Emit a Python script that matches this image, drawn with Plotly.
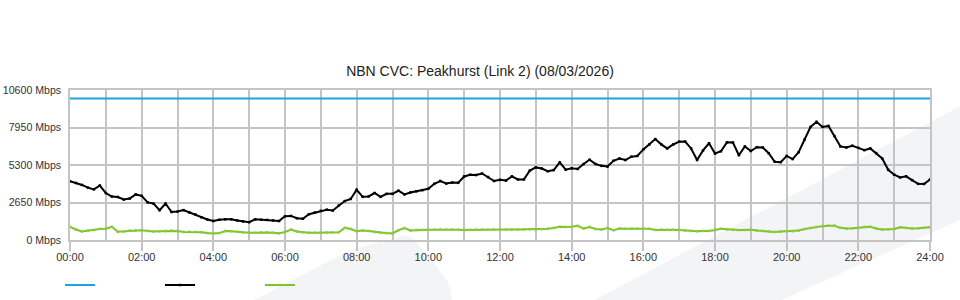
import plotly.graph_objects as go

title_text = "NBN CVC: Peakhurst (Link 2) (08/03/2026)"

y_tick_values = [0, 2650, 5300, 7950, 10600]
y_tick_labels = ["0 Mbps", "2650 Mbps", "5300 Mbps", "7950 Mbps", "10600 Mbps"]
x_tick_values = [0, 2, 4, 6, 8, 10, 12, 14, 16, 18, 20, 22, 24]
x_tick_labels = ["00:00", "02:00", "04:00", "06:00", "08:00", "10:00", "12:00",
                 "14:00", "16:00", "18:00", "20:00", "22:00", "24:00"]
legend_labels = ["", "", ""]

# capacity line (Mbps)
capacity_hours = [0, 24]
capacity_mbps = [10000, 10000]

# 10-minute samples, 00:00 .. 24:00
sample_hours = [i / 6 for i in range(145)]

download_mbps = [
    4160, 4030, 3890, 3700, 3580, 3850, 3320, 3070, 3040, 2860,
    2930, 3220, 3120, 2660, 2570, 2110, 2580, 1980, 2010, 2110,
    1940, 1800, 1610, 1450, 1340, 1430, 1460, 1460, 1380, 1310,
    1260, 1460, 1430, 1420, 1380, 1340, 1680, 1700, 1540, 1500,
    1820, 1940, 2060, 2140, 2080, 2440, 2750, 2900, 3550, 3050,
    3080, 3320, 3050, 3260, 3260, 3480, 3220, 3360, 3440, 3520,
    3620, 3970, 4170, 3990, 4060, 4040, 4490, 4610, 4590, 4700,
    4450, 4170, 4250, 4200, 4500, 4280, 4280, 4910, 5130, 5050,
    4860, 4940, 5480, 4970, 5070, 5020, 5370, 5670, 5370, 5240,
    5190, 5600, 5760, 5650, 5890, 5940, 6400, 6750, 7130, 6760,
    6470, 6750, 6950, 6960, 6470, 5650, 6330, 6830, 6110, 6270,
    6900, 6890, 5990, 6610, 6290, 6560, 6540, 6130, 5530, 5500,
    5940, 5720, 6200, 7100, 7990, 8350, 7990, 8060, 7340, 6610,
    6540, 6660, 6510, 6350, 6470, 6140, 5760, 4960, 4610, 4420,
    4500, 4230, 3970, 3960, 4280,
]

upload_mbps = [
    930, 740, 610, 670, 710, 780, 790, 930, 580, 600,
    670, 670, 690, 640, 600, 620, 640, 670, 640, 570,
    580, 570, 550, 490, 460, 490, 640, 620, 580, 530,
    520, 510, 530, 530, 510, 470, 570, 740, 600, 540,
    510, 510, 510, 520, 530, 550, 860, 780, 620, 670,
    640, 570, 530, 490, 460, 690, 850, 670, 710, 710,
    720, 730, 740, 740, 730, 720, 710, 720, 730, 740,
    730, 740, 740, 740, 740, 740, 740, 760, 740, 770,
    790, 850, 930, 920, 930, 1000, 810, 920, 780, 740,
    850, 690, 810, 790, 790, 800, 810, 790, 710, 730,
    720, 720, 710, 670, 640, 620, 640, 640, 710, 790,
    760, 720, 700, 710, 730, 670, 640, 600, 570, 600,
    620, 620, 670, 770, 850, 920, 980, 1010, 1010, 860,
    810, 830, 860, 930, 930, 810, 740, 760, 780, 900,
    850, 810, 830, 860, 900,
]

BLUE = "#1fa3e0"
BLACK = "#000000"
GREEN = "#7fc22c"
GRID = "#c4c4c4"
BAND = "#f3f4f6"
FONT = "Liberation Sans, Arial, sans-serif"

# plot-area geometry (pixels) used to place the decorative background bands
L, R, T, B = 70, 30, 90, 60
W, H = 960, 300
PW, PH = W - L - R, H - T - B


def px_to_paper(x, y):
    return (x - L) / PW, (H - B - y) / PH


def path_from_pixels(points, closing="Z"):
    parts = []
    for k, (x, y) in enumerate(points):
        px, py = px_to_paper(x, y)
        parts.append(("M" if k == 0 else "L") + f"{px:.4f},{py:.4f}")
    return " ".join(parts) + " " + closing


band_right = [(585, 305), (1000, 85), (1000, 202), (770, 305)]
band_left = [(245, 305), (350, 250), (396, 238), (405, 235), (413, 238),
             (430, 258), (448, 282), (453, 305)]

fig = go.Figure()

fig.add_trace(go.Scatter(
    x=capacity_hours, y=capacity_mbps, mode="lines", name=legend_labels[0],
    line=dict(color=BLUE, width=2), showlegend=True))
fig.add_trace(go.Scatter(
    x=sample_hours, y=download_mbps, mode="lines+markers", name=legend_labels[1],
    line=dict(color=BLACK, width=2), marker=dict(size=2.5, symbol="square", color=BLACK),
    showlegend=True))
fig.add_trace(go.Scatter(
    x=sample_hours, y=upload_mbps, mode="lines+markers", name=legend_labels[2],
    line=dict(color=GREEN, width=2), marker=dict(size=2.5, symbol="square", color="#8ccc3c"),
    showlegend=True))

fig.update_layout(
    width=W, height=H,
    margin=dict(l=L, r=R, t=T, b=B, autoexpand=False),
    paper_bgcolor="#ffffff",
    plot_bgcolor="rgba(0,0,0,0)",
    font=dict(family=FONT, size=11, color="#333333"),
    title=dict(text=title_text, x=0.5, xanchor="center", xref="container",
               y=1 - 71 / H, yanchor="middle", yref="container",
               font=dict(family=FONT, size=14, color="#222222")),
    showlegend=True,
    legend=dict(orientation="h", x=(60 - L) / PW, xanchor="left",
                y=(H - 285) / H, yanchor="middle", yref="container",
                entrywidth=55, entrywidthmode="pixels",
                bgcolor="rgba(0,0,0,0)", font=dict(size=11)),
    hovermode=False,
    shapes=[
        dict(type="path", path=path_from_pixels(band_right), xref="paper", yref="paper",
             fillcolor=BAND, line=dict(width=0), layer="below"),
        dict(type="path", path=path_from_pixels(band_left), xref="paper", yref="paper",
             fillcolor=BAND, line=dict(width=0), layer="below"),
    ],
)

fig.update_xaxes(
    range=[0, 24], tickmode="array", tickvals=x_tick_values, ticktext=x_tick_labels,
    showgrid=True, gridcolor=GRID, gridwidth=1.5,
    ticks="outside", ticklen=9, tickwidth=1.5, tickcolor=GRID,
    showline=True, linecolor=GRID, linewidth=1.5, mirror=True,
    zeroline=False, tickfont=dict(size=11, color="#333333"),
    ticklabelstandoff=-3,
    minor=dict(tickmode="linear", tick0=0, dtick=1, showgrid=True,
               gridcolor=GRID, gridwidth=1.5, ticks=""),
    automargin=False, fixedrange=True,
)
fig.update_yaxes(
    range=[0, 10600], tickmode="array", tickvals=y_tick_values, ticktext=y_tick_labels,
    showgrid=True, gridcolor=GRID, gridwidth=1.5, ticks="",
    showline=True, linecolor=GRID, linewidth=1.5, mirror=True,
    zeroline=False, ticklabelstandoff=5, tickfont=dict(size=10.6, color="#333333"),
    automargin=False, fixedrange=True,
)

fig.write_html("out.html")
